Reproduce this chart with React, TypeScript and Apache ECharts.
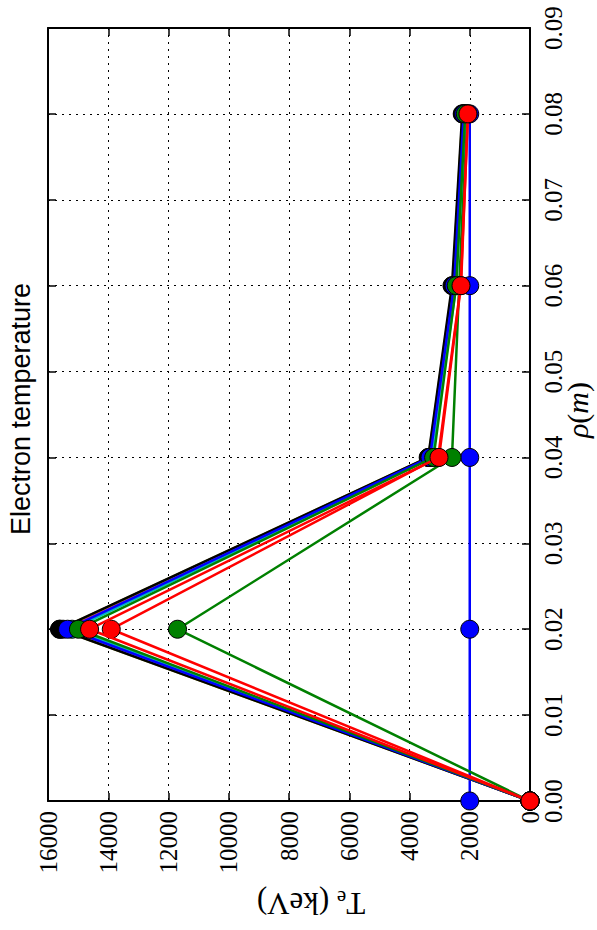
import React, { useEffect, useRef } from "react";
import * as echarts from "echarts";

const rho = [0, 0.02, 0.04, 0.06, 0.08];
const teTicks = [0, 2000, 4000, 6000, 8000, 10000, 12000, 14000, 16000];
const rhoTicks = [0, 0.01, 0.02, 0.03, 0.04, 0.05, 0.06, 0.07, 0.08, 0.09];

const colors = ["#0000ff", "#008000", "#ff0000", "#00bfbf", "#bf00bf", "#bfbf00", "#000000", "#0000ff", "#008000", "#ff0000"];
const it1 = [2000, 2000, 2000, 2000, 2000];
const it2 = [0, 11700, 2590, 2350, 2100];
const it3 = [0, 13900, 3050, 2300, 2060];
const it4 = [0, 15200, 3250, 2450, 2150];
const it5 = [0, 15500, 3330, 2520, 2200];
const it6 = [0, 15600, 3370, 2570, 2240];
const it7 = [0, 15620, 3380, 2590, 2250];
const it8 = [0, 15350, 3320, 2520, 2200];
const it9 = [0, 14990, 3200, 2450, 2150];
const it10 = [0, 14620, 3020, 2290, 2060];
const iterations = [it1, it2, it3, it4, it5, it6, it7, it8, it9, it10];

const SERIF = "'Liberation Serif', 'DejaVu Serif', serif";

export default function App() {
  const ref = useRef<HTMLDivElement>(null);
  useEffect(() => {
    document.body.style.margin = "0";
    const chart = echarts.init(ref.current!, null, { renderer: "svg" });
    const axisLine = { show: true, onZero: false, lineStyle: { color: "#000", width: 2 } };
    const tick = { show: true, inside: true, length: 8, lineStyle: { color: "#000", width: 1.5 } };
    const grid = { show: true, lineStyle: { color: "#000", width: 1, type: [2, 5] } };
    chart.setOption({
      animation: false,
      backgroundColor: "#fff",
      grid: { left: 48, right: 67, top: 28, bottom: 129 },
      xAxis: [
        {
          type: "value", min: teTicks[0], max: teTicks[teTicks.length - 1], interval: 2000, inverse: true, position: "bottom",
          axisLine, axisTick: tick, splitLine: grid,
          axisLabel: { rotate: 90, margin: 10, fontFamily: SERIF, fontSize: 25, color: "#000", formatter: (v: number) => String(v) },
        },
        {
          type: "value", min: teTicks[0], max: teTicks[teTicks.length - 1], interval: 2000, inverse: true, position: "top",
          axisLine, axisTick: tick, splitLine: { show: false }, axisLabel: { show: false },
        },
      ],
      yAxis: [
        {
          type: "value", min: rhoTicks[0], max: rhoTicks[rhoTicks.length - 1], interval: 0.01, position: "right",
          axisLine, axisTick: tick, splitLine: grid,
          axisLabel: { rotate: 90, margin: 11, fontFamily: SERIF, fontSize: 25, color: "#000", formatter: (v: number) => v.toFixed(2) },
        },
        {
          type: "value", min: rhoTicks[0], max: rhoTicks[rhoTicks.length - 1], interval: 0.01, position: "left",
          axisLine, axisTick: tick, splitLine: { show: false }, axisLabel: { show: false },
        },
      ],
      series: iterations.map((vals, i) => ({
        type: "line",
        xAxisIndex: 0,
        yAxisIndex: 0,
        data: vals.map((v, j) => [v, rho[j]]),
        symbol: "circle",
        symbolSize: 18,
        showAllSymbol: true,
        clip: true,
        lineStyle: { color: colors[i], width: 2.5 },
        itemStyle: { color: colors[i], borderColor: "#000", borderWidth: 1 },
        z: 2 + i,
      })),
      graphic: [
        {
          type: "text", x: 21, y: 409, rotation: Math.PI / 2,
          style: { text: "Electron temperature", fontFamily: "'Liberation Sans', Arial, sans-serif", fontSize: 27, fill: "#000", align: "center", verticalAlign: "middle" },
        },
        {
          type: "text", x: 577, y: 410, rotation: Math.PI / 2,
          style: {
            text: "{i|ρ}{n|(}{i|m}{n|)}",
            align: "center", verticalAlign: "middle", fill: "#000",
            rich: {
              i: { fontFamily: SERIF, fontStyle: "italic", fontSize: 30, fill: "#000" },
              n: { fontFamily: SERIF, fontSize: 30, fill: "#000" },
            },
          },
        },
        {
          type: "text", x: 311, y: 903, rotation: Math.PI,
          style: {
            text: "{n|T}{s|e}{n| (keV)}",
            align: "center", verticalAlign: "middle", fill: "#000",
            rich: {
              n: { fontFamily: SERIF, fontSize: 31, fill: "#000" },
              s: { fontFamily: SERIF, fontSize: 21, fill: "#000", verticalAlign: "bottom", padding: [11, 0, 0, 0] },
            },
          },
        },
      ],
    });
    return () => chart.dispose();
  }, []);
  return <div ref={ref} style={{ width: 597, height: 930 }} />;
}
